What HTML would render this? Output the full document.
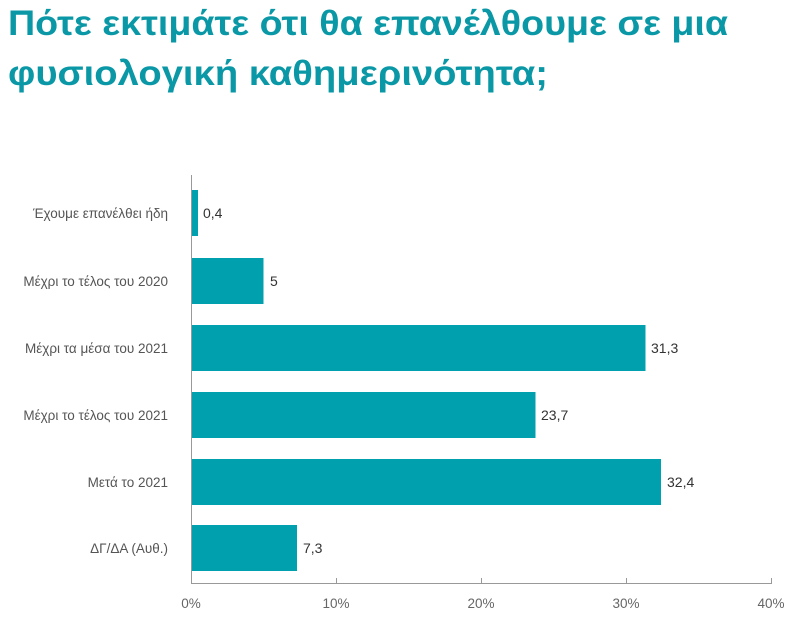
<!DOCTYPE html>
<html><head><meta charset="utf-8"><style>body{margin:0;background:#fff}svg{display:block}</style></head><body>
<svg width="800" height="627" xmlns="http://www.w3.org/2000/svg" font-family="Liberation Sans, sans-serif">
<text x="8" y="35" font-size="35" font-weight="bold" fill="#0a98a6" textLength="720" lengthAdjust="spacingAndGlyphs">Πότε εκτιμάτε ότι θα επανέλθουμε σε μια</text>
<text x="8" y="85" font-size="35" font-weight="bold" fill="#0a98a6" textLength="540" lengthAdjust="spacingAndGlyphs">φυσιολογική καθημερινότητα;</text>
<g fill="#00a0ae">
<rect x="192" y="190" width="6" height="46"/>
<rect x="192" y="258" width="71.5" height="46"/>
<rect x="192" y="325" width="453.5" height="46"/>
<rect x="192" y="392" width="343.5" height="46"/>
<rect x="192" y="459" width="469" height="46"/>
<rect x="192" y="525" width="105" height="46"/>
</g>
<g stroke="#999" stroke-width="1">
<line x1="191.5" y1="175" x2="191.5" y2="583"/>
<line x1="191" y1="583.5" x2="772" y2="583.5"/>
<line x1="336.5" y1="578" x2="336.5" y2="583"/>
<line x1="481.5" y1="578" x2="481.5" y2="583"/>
<line x1="626.5" y1="578" x2="626.5" y2="583"/>
<line x1="771.5" y1="578" x2="771.5" y2="583"/>
</g>
<g font-size="13.5" fill="#555" text-anchor="end">
<text x="168" y="218">Έχουμε επανέλθει ήδη</text>
<text x="168" y="286">Μέχρι το τέλος του 2020</text>
<text x="168" y="353">Μέχρι τα μέσα του 2021</text>
<text x="168" y="420">Μέχρι το τέλος του 2021</text>
<text x="168" y="487">Μετά το 2021</text>
<text x="168" y="553">ΔΓ/ΔΑ (Αυθ.)</text>
</g>
<g font-size="14" fill="#333">
<text x="203" y="218">0,4</text>
<text x="270" y="286">5</text>
<text x="651" y="353">31,3</text>
<text x="541" y="420">23,7</text>
<text x="667" y="487">32,4</text>
<text x="303" y="553">7,3</text>
</g>
<g font-size="13.5" fill="#666" text-anchor="middle">
<text x="191" y="608">0%</text>
<text x="336" y="608">10%</text>
<text x="481" y="608">20%</text>
<text x="626" y="608">30%</text>
<text x="771" y="608">40%</text>
</g>
</svg>
</body></html>
